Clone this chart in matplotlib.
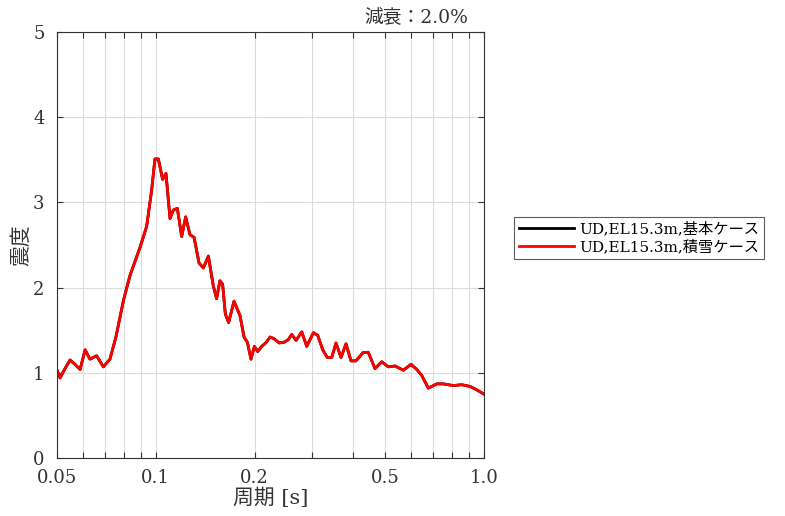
import matplotlib
matplotlib.use('Agg')
import matplotlib.pyplot as plt

plt.rcParams['font.family'] = ['DejaVu Serif', 'Noto Sans CJK JP']

# 周期 [s] と 震度
period = [0.0500, 0.0511, 0.0529, 0.0548, 0.0567, 0.0588, 0.0609, 0.0630, 0.0660,
          0.0692, 0.0725, 0.0756, 0.0797, 0.0834, 0.0895, 0.0938, 0.0971, 0.0994,
          0.1018, 0.1049, 0.1074, 0.1105, 0.1131, 0.1163, 0.1199, 0.1233, 0.1271,
          0.1308, 0.1354, 0.1396, 0.1446, 0.1497, 0.1532, 0.1568, 0.1598, 0.1629,
          0.1667, 0.1731, 0.1806, 0.1857, 0.1901, 0.1950, 0.1997, 0.2044, 0.2102,
          0.2162, 0.2229, 0.2292, 0.2379, 0.2464, 0.2534, 0.2595, 0.2675, 0.2784,
          0.2883, 0.3020, 0.3114, 0.3226, 0.3331, 0.3436, 0.3541, 0.3667, 0.3798,
          0.3933, 0.4074, 0.4288, 0.4441, 0.4654, 0.4879, 0.5109, 0.5356, 0.5679,
          0.5992, 0.6236, 0.6459, 0.6765, 0.7178, 0.7516, 0.8063, 0.8553, 0.9066,
          0.9498, 1.0000]
kihon = [1.03, 0.94, 1.05, 1.15, 1.10, 1.04, 1.27, 1.16, 1.20,
         1.07, 1.16, 1.42, 1.85, 2.14, 2.47, 2.72, 3.14, 3.51,
         3.51, 3.27, 3.34, 2.81, 2.91, 2.93, 2.60, 2.83, 2.62,
         2.59, 2.29, 2.23, 2.37, 2.02, 1.87, 2.08, 2.04, 1.69,
         1.59, 1.84, 1.67, 1.42, 1.36, 1.16, 1.31, 1.25, 1.31,
         1.35, 1.42, 1.40, 1.35, 1.36, 1.39, 1.45, 1.38, 1.48,
         1.31, 1.47, 1.44, 1.27, 1.18, 1.18, 1.35, 1.18, 1.34,
         1.14, 1.14, 1.24, 1.24, 1.05, 1.13, 1.07, 1.08, 1.03,
         1.10, 1.04, 0.97, 0.82, 0.87, 0.87, 0.85, 0.86, 0.84,
         0.80, 0.75]
sekisetsu = list(kihon)

labels = ['UD,EL15.3m,基本ケース', 'UD,EL15.3m,積雪ケース']
minor_x = [0.05, 0.06, 0.07, 0.08, 0.09, 0.1, 0.2, 0.3, 0.4, 0.5, 0.6, 0.7, 0.8, 0.9, 1.0]
label_x = {0.05: '0.05', 0.1: '0.1', 0.2: '0.2', 0.5: '0.5', 1.0: '1.0'}

fig = plt.figure(figsize=(7.85, 5.16), dpi=100)
ax = fig.add_axes([57 / 785, 58 / 516, 427 / 785, 426 / 516])

ax.plot(period, kihon, color='black', linewidth=2.0, label=labels[0])
ax.plot(period, sekisetsu, color='#ff0000', linewidth=2.0, label=labels[1])

ax.set_xscale('log')
ax.set_xlim(0.05, 1.0)
ax.set_ylim(0, 5)
ax.set_xticks(minor_x)
ax.set_xticklabels([label_x.get(v, '') for v in minor_x])
ax.xaxis.set_minor_locator(matplotlib.ticker.NullLocator())
ax.set_yticks([0, 1, 2, 3, 4, 5])
ax.grid(True, color='#dcdcdc', linewidth=0.8)
ax.set_axisbelow(True)
ax.tick_params(direction='in', top=True, right=True, length=4, labelsize=13,
               color='#333333', labelcolor='#333333')
ax.tick_params(axis='x', pad=8)
ax.tick_params(axis='y', pad=9)
for s in ax.spines.values():
    s.set_color('#333333')
    s.set_linewidth(0.8)

ax.set_xlabel('周期 [s]', fontsize=15, color='#333333', labelpad=0)
ax.set_ylabel('震度', fontsize=15, color='#333333', labelpad=1)
ax.text(0.962, 1.012, '減衰：2.0%', transform=ax.transAxes, ha='right', va='bottom',
        fontsize=13.5, color='#333333')

leg = fig.legend(loc='center left', bbox_to_anchor=(514 / 785, 1 - 238 / 516),
                 fontsize=11, frameon=True, fancybox=False, edgecolor='#333333',
                 handlelength=3.6, handletextpad=0.4, borderpad=0.3,
                 borderaxespad=0.0, labelspacing=0.2)
leg.get_frame().set_linewidth(0.8)

fig.savefig('out.png', dpi=100)
